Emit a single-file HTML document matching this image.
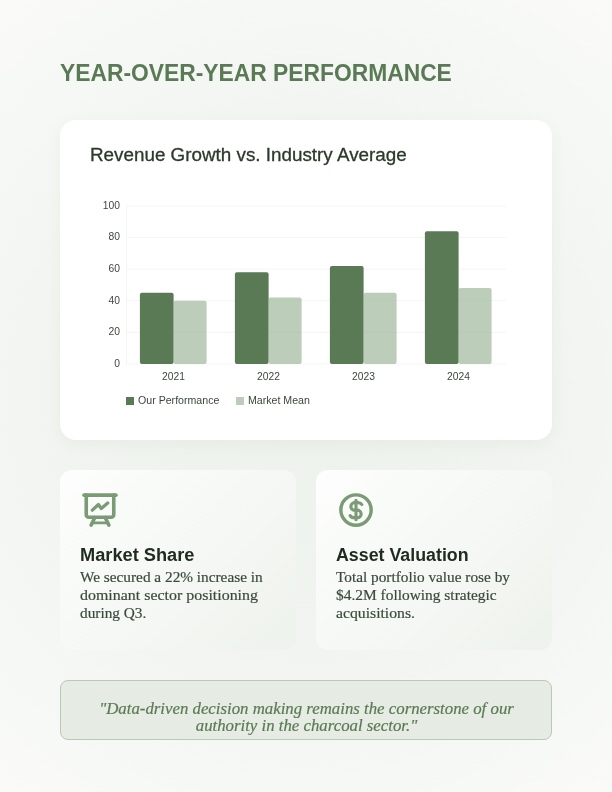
<!DOCTYPE html>
<html><head><meta charset="utf-8">
<style>
*{box-sizing:border-box;margin:0;padding:0}
html,body{width:612px;height:792px;overflow:hidden}
body{background:radial-gradient(circle at 50% 50%,#edf2ec 0%,#f1f4f0 50%,#fafbf9 100%);font-family:"Liberation Sans",sans-serif;position:relative}
.title{position:absolute;left:60px;top:58px;font-size:24px;font-weight:bold;color:#5a7a55;white-space:nowrap;line-height:30px;transform-origin:0 50%;transform:scaleX(.951)}
.chart{position:absolute;left:60px;top:120px;width:492px;height:320px;background:#fff;border-radius:16px;box-shadow:0 4px 16px rgba(74,103,65,.05)}
.chart h2{position:absolute;left:30px;top:22.7px;font-size:18px;font-weight:normal;color:#2b3a2b;-webkit-text-stroke:.3px #2b3a2b;white-space:nowrap;line-height:24px;transform-origin:0 50%;transform:scaleX(1.046)}
.card{position:absolute;top:470px;width:236px;height:180px;border-radius:12px;background:linear-gradient(135deg,#fdfefd 0%,#eef2ec 100%)}
.card svg{position:absolute;left:20px;top:19.75px}
.card h3{position:absolute;left:20px;top:73.8px;font-size:17.6px;font-weight:bold;color:#1f2b1f;white-space:nowrap;line-height:22px;transform-origin:0 50%;transform:scaleX(1.035)}
.card p span{display:inline-block;transform-origin:0 50%}
.card p{-webkit-text-stroke:.2px #3a4a3a;position:absolute;left:20px;top:98px;width:216px;font-family:"Liberation Serif",serif;font-size:15.3px;line-height:18px;color:#3a4a3a;white-space:nowrap}
.quote{-webkit-text-stroke:.2px #5a7a55;position:absolute;left:60px;top:680px;width:492px;height:60px;border:1px solid #bac8b6;border-radius:8px;background:#e6ebe3;text-align:center;font-family:"Liberation Serif",serif;font-style:italic;font-size:16px;line-height:17px;color:#5a7a55;padding-top:18.5px;white-space:nowrap}
.quote span{display:inline-block;transform:scaleX(1.05)}
svg text{font-family:"Liberation Sans",sans-serif}
</style></head><body>
<div class="title">YEAR-OVER-YEAR PERFORMANCE</div>
<div class="chart">
<h2>Revenue Growth vs. Industry Average</h2>
<svg width="492" height="320" style="position:absolute;left:0;top:0">
<g stroke="#f3f6f3" stroke-width="1">
<line x1="66" x2="446" y1="86.0" y2="86.0"/><line x1="66" x2="446" y1="117.6" y2="117.6"/><line x1="66" x2="446" y1="149.2" y2="149.2"/><line x1="66" x2="446" y1="180.7" y2="180.7"/><line x1="66" x2="446" y1="212.3" y2="212.3"/><line x1="66" x2="446" y1="243.9" y2="243.9"/>
<line x1="66.5" x2="66.5" y1="85.5" y2="244.4"/>
</g>
<g font-size="10.3" fill="#3a463a" text-anchor="end">
<text x="60" y="88.8">100</text><text x="60" y="120">80</text><text x="60" y="151.7">60</text><text x="60" y="183.5">40</text><text x="60" y="215">20</text><text x="60" y="246.7">0</text>
</g>
<g fill="#5a7a55">
<rect x="79.9" y="172.8" width="33.7" height="71.1" rx="2"/><rect x="174.9" y="152.3" width="33.7" height="91.6" rx="2"/><rect x="269.9" y="146.0" width="33.7" height="97.9" rx="2"/><rect x="364.9" y="111.3" width="33.7" height="132.6" rx="2"/>
</g>
<g fill="#90ad8b" fill-opacity=".6">
<rect x="113.6" y="180.7" width="33" height="63.2" rx="2"/><rect x="208.6" y="177.6" width="33" height="66.3" rx="2"/><rect x="303.6" y="172.8" width="33" height="71.1" rx="2"/><rect x="398.6" y="168.1" width="33" height="75.8" rx="2"/>
</g>
<g font-size="10.3" fill="#3a463a" text-anchor="middle">
<text x="113.5" y="260">2021</text><text x="208.5" y="260">2022</text><text x="303.5" y="260">2023</text><text x="398.5" y="260">2024</text>
</g>
<rect x="66" y="277" width="8" height="8" fill="#5a7a55"/><text x="78" y="284" font-size="10.62" fill="#3a463a">Our Performance</text>
<rect x="176" y="277" width="8" height="8" fill="#90ad8b" fill-opacity=".6"/><text x="188" y="284" font-size="10.62" fill="#3a463a">Market Mean</text>
</svg>
</div>
<div class="card" style="left:60px">
<svg width="40" height="40" viewBox="0 0 256 256" fill="none" stroke="#7b9a76" stroke-width="23" stroke-linecap="round" stroke-linejoin="round">
<path d="M26,33H230"/>
<path d="M40,33V158a16,16,0,0,0,16,16H200a16,16,0,0,0,16-16V33"/>
<path d="M95,176L71,225M161,176L185,225"/>
<path d="M84,210H172" stroke-width="17"/>
<path d="M79,129L118,93L136,118L177.600,83" stroke-width="21"/>
</svg>
<h3>Market Share</h3>
<p><span>We secured a 22% increase in</span><br><span style="transform:scaleX(1.042)">dominant sector positioning</span><br><span>during Q3.</span></p>
</div>
<div class="card" style="left:316px">
<svg width="40" height="40" viewBox="0 0 256 256" fill="none" stroke="#7b9a76" stroke-width="20" stroke-linecap="round" stroke-linejoin="round">
<circle cx="128" cy="128" r="97" stroke-width="22"/>
<path d="M128,66V190"/>
<path d="M165,93C160,85 150,81 140,81H119a24,24 0 0,0 0,48H137a24,24 0 0,1 0,48H116C106,177 96,173 91,164"/>
</svg>
<h3 style="transform:scaleX(1.012)">Asset Valuation</h3>
<p><span>Total portfolio value rose by</span><br><span style="transform:scaleX(1.008)">$4.2M following strategic</span><br><span style="transform:scaleX(1.027)">acquisitions.</span></p>
</div>
<div class="quote"><span>"Data-driven decision making remains the cornerstone of our</span><br><span>authority in the charcoal sector."</span></div>
</body></html>
